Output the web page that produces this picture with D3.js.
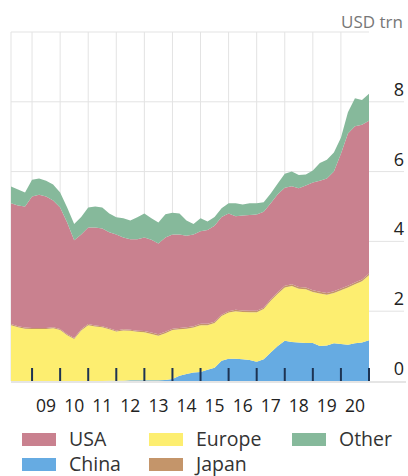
<!DOCTYPE html>
<html>
<head>
<meta charset="utf-8">
<script src="https://cdn.jsdelivr.net/npm/d3@7"></script>
<style>
  body { margin: 0; background: #fff; }
  svg text { font-family: "Open Sans", "Noto Sans", sans-serif; }
</style>
</head>
<body>
<div id="chart"></div>
<script>
// periodos trimestrales (año decimal)
const periods = [
  2008.25, 2008.5, 2008.75, 2009, 2009.25, 2009.5, 2009.75, 2010, 2010.25, 2010.5, 2010.75,
  2011, 2011.25, 2011.5, 2011.75, 2012, 2012.25, 2012.5, 2012.75, 2013, 2013.25, 2013.5, 2013.75,
  2014, 2014.25, 2014.5, 2014.75, 2015, 2015.25, 2015.5, 2015.75, 2016, 2016.25, 2016.5, 2016.75,
  2017, 2017.25, 2017.5, 2017.75, 2018, 2018.25, 2018.5, 2018.75, 2019, 2019.25, 2019.5, 2019.75,
  2020, 2020.25, 2020.5, 2020.75, 2021
];

// valores por región (USD trn)
const china = [
  0, 0, 0, 0, 0, 0, 0, 0, 0, 0, 0,
  0, 0, 0, 0.01, 0.01, 0.01, 0.02, 0.02, 0.02, 0.02, 0.02, 0.03,
  0.06, 0.15, 0.2, 0.24, 0.26, 0.32, 0.38, 0.58, 0.64, 0.64, 0.62, 0.6,
  0.55, 0.62, 0.82, 1.0, 1.15, 1.12, 1.1, 1.09, 1.09, 1.0, 1.02, 1.08,
  1.06, 1.04, 1.08, 1.1, 1.17
];
const europe = [
  1.6, 1.54, 1.5, 1.49, 1.49, 1.49, 1.51, 1.46, 1.31, 1.2, 1.45,
  1.6, 1.56, 1.54, 1.47, 1.41, 1.44, 1.42, 1.39, 1.38, 1.33, 1.28, 1.34,
  1.4, 1.33, 1.3, 1.29, 1.34, 1.28, 1.28, 1.28, 1.32, 1.36, 1.36, 1.37,
  1.42, 1.44, 1.48, 1.5, 1.53, 1.6, 1.54, 1.54, 1.46, 1.51, 1.45, 1.44,
  1.54, 1.64, 1.69, 1.76, 1.86
];
const japan = [
  0.03, 0.03, 0.03, 0.03, 0.03, 0.03, 0.03, 0.03, 0.03, 0.03, 0.03,
  0.03, 0.03, 0.03, 0.03, 0.03, 0.03, 0.03, 0.03, 0.03, 0.04, 0.04, 0.04,
  0.04, 0.04, 0.04, 0.04, 0.04, 0.04, 0.04, 0.04, 0.04, 0.04, 0.04, 0.04,
  0.04, 0.04, 0.04, 0.04, 0.05, 0.05, 0.05, 0.05, 0.05, 0.05, 0.05, 0.05,
  0.05, 0.05, 0.05, 0.05, 0.05
];
const usa = [
  3.46, 3.46, 3.47, 3.77, 3.82, 3.77, 3.63, 3.48, 3.2, 2.8, 2.72,
  2.77, 2.81, 2.8, 2.75, 2.75, 2.63, 2.59, 2.62, 2.68, 2.66, 2.6, 2.7,
  2.7, 2.68, 2.62, 2.63, 2.65, 2.69, 2.75, 2.8, 2.8, 2.68, 2.72, 2.75,
  2.76, 2.75, 2.75, 2.81, 2.81, 2.81, 2.83, 2.92, 3.09, 3.18, 3.28, 3.43,
  3.86, 4.36, 4.48, 4.43, 4.38
];
const other = [
  0.48, 0.46, 0.4, 0.48, 0.46, 0.45, 0.46, 0.43, 0.43, 0.47, 0.5,
  0.57, 0.6, 0.6, 0.54, 0.49, 0.55, 0.54, 0.63, 0.69, 0.61, 0.6, 0.67,
  0.62, 0.6, 0.44, 0.3, 0.37, 0.24, 0.25, 0.25, 0.29, 0.37, 0.32, 0.33,
  0.32, 0.27, 0.28, 0.31, 0.4, 0.42, 0.38, 0.32, 0.34, 0.51, 0.54, 0.55,
  0.46, 0.61, 0.8, 0.71, 0.77
];

const yearTicks = [2009, 2010, 2011, 2012, 2013, 2014, 2015, 2016, 2017, 2018, 2019, 2020, 2021];
const yearLabels = ["09", "10", "11", "12", "13", "14", "15", "16", "17", "18", "19", "20"];
const yTicks = [0, 2, 4, 6, 8];

const keys = ["china", "europe", "japan", "usa", "other"];
const colors = {
  usa: "#c9818f",
  europe: "#fdee70",
  other: "#86b99b",
  china: "#66abe2",
  japan: "#c4956a",
};
const legendItems = [
  ["usa", "USA"], ["europe", "Europe"], ["other", "Other"],
  ["china", "China"], ["japan", "Japan"],
];

// tabla para d3.stack
const table = periods.map((p, i) => ({
  period: p, china: china[i], europe: europe[i], japan: japan[i], usa: usa[i], other: other[i],
}));

const width = 408, height = 476;
const plot = { left: 11, right: 369, top: 32, bottom: 381 };

const svg = d3.select("#chart").append("svg")
  .attr("width", width).attr("height", height);

const x = d3.scaleLinear().domain([2008.25, 2021]).range([plot.left, plot.right]);
const y = d3.scaleLinear().domain([0, 10]).range([plot.bottom, plot.top]);

// rejilla
const grid = svg.append("g").attr("stroke", "#e3e3e3").attr("stroke-width", 1);
yearTicks.slice(0, -1).forEach((t) => {
  grid.append("line").attr("x1", x(t)).attr("x2", x(t))
    .attr("y1", plot.top).attr("y2", plot.bottom);
});
grid.append("line").attr("x1", plot.left).attr("x2", plot.left)
  .attr("y1", plot.top).attr("y2", plot.bottom);
grid.append("line").attr("x1", plot.left).attr("x2", plot.right)
  .attr("y1", y(10)).attr("y2", y(10));
yTicks.slice(1).forEach((t) => {
  grid.append("line").attr("x1", plot.left).attr("x2", 404)
    .attr("y1", y(t)).attr("y2", y(t));
});

// áreas apiladas
const series = d3.stack().keys(keys)(table);
const area = d3.area()
  .x((d) => x(d.data.period))
  .y0((d) => y(d[0]))
  .y1((d) => y(d[1]));

svg.append("g").selectAll("path").data(series).join("path")
  .attr("fill", (d) => colors[d.key])
  .attr("d", area);

// eje inferior
svg.append("line").attr("x1", plot.left).attr("x2", 406)
  .attr("y1", plot.bottom + 1).attr("y2", plot.bottom + 1)
  .attr("stroke", "#dcdcdc").attr("stroke-width", 1.5);

svg.append("g").selectAll("line").data(yearTicks).join("line")
  .attr("x1", (d) => x(d)).attr("x2", (d) => x(d))
  .attr("y1", plot.bottom - 13).attr("y2", plot.bottom)
  .attr("stroke", "#1d3352").attr("stroke-width", 2);

svg.append("g").selectAll("text").data(yearLabels).join("text")
  .attr("x", (d, i) => x(yearTicks[i] + 0.5))
  .attr("y", 412)
  .attr("text-anchor", "middle")
  .attr("font-size", 17.5)
  .attr("fill", "#222")
  .text((d) => d);

// eje derecho
svg.append("g").selectAll("text").data(yTicks).join("text")
  .attr("x", 399)
  .attr("y", (d) => y(d) - 6)
  .attr("text-anchor", "middle")
  .attr("font-size", 18)
  .attr("fill", "#222")
  .text((d) => d);

svg.append("text")
  .attr("x", 403).attr("y", 28)
  .attr("text-anchor", "end")
  .attr("font-size", 17)
  .attr("fill", "#777")
  .text("USD trn");

// leyenda
const legendPos = [[22, 439], [149, 439], [292, 439], [22, 464], [149, 464]];
const legend = svg.append("g").selectAll("g").data(legendItems).join("g")
  .attr("transform", (d, i) => `translate(${legendPos[i][0]},${legendPos[i][1]})`);

legend.append("rect")
  .attr("x", 0).attr("y", -6)
  .attr("width", 34).attr("height", 13)
  .attr("fill", (d) => colors[d[0]]);

legend.append("text")
  .attr("x", 47).attr("y", 7)
  .attr("font-size", 19.5)
  .attr("fill", "#333")
  .text((d) => d[1]);
</script>
</body>
</html>
